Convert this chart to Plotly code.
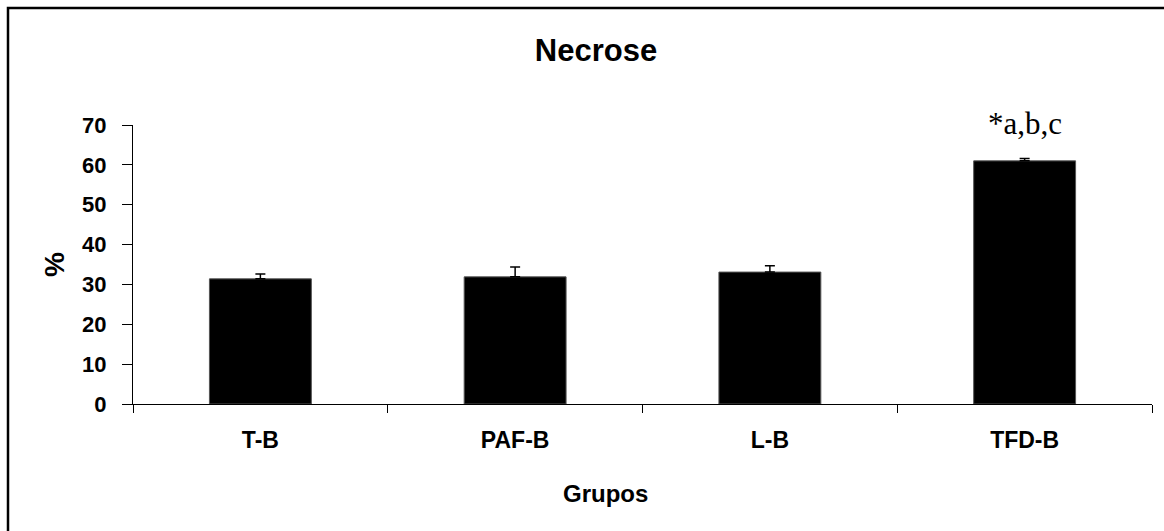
import plotly.graph_objects as go

categories = ["T-B", "PAF-B", "L-B", "TFD-B"]
values = [31.4, 31.9, 33.1, 61.0]
errors_up = [1.2, 2.5, 1.6, 0.6]
errors_down = [0, 0, 0, 0]
y_ticks = [0, 10, 20, 30, 40, 50, 60, 70]
significance = "*a,b,c"

W, H = 1164, 531
L, R, T, B = 133, 12, 125, 127
pw, ph = W - L - R, H - T - B


def px_x(x):
    return (x - L) / pw


def px_y(y):
    return (T + ph - y) / ph


fig = go.Figure()
fig.add_trace(go.Bar(
    x=categories, y=values, width=0.4,
    marker=dict(color="black", line=dict(color="#555555", width=1)),
    error_y=dict(type="data", symmetric=False, array=errors_up, arrayminus=errors_down,
                 color="black", thickness=1.5, width=5),
    showlegend=False,
))

fig.add_annotation(x=categories[3], y=values[3] + errors_up[3], yref="y", xref="x",
                   text=significance, showarrow=False, yanchor="bottom", yshift=15,
                   font=dict(family="Liberation Serif", size=31, color="black", weight="normal"))

fig.add_annotation(x=px_x(605), y=px_y(493), xref="paper", yref="paper",
                   text="Grupos", showarrow=False, xanchor="center", yanchor="middle",
                   font=dict(family="Liberation Sans", size=24, color="black", weight="bold"))

# frame (left/top edges visible)
fig.add_shape(type="rect", xref="paper", yref="paper",
              x0=px_x(8), x1=px_x(W + 20),
              y0=px_y(H + 20), y1=px_y(8),
              line=dict(color="black", width=2.5), fillcolor="rgba(0,0,0,0)", layer="below")

fig.update_layout(
    width=W, height=H,
    margin=dict(l=L, r=R, t=T, b=B, autoexpand=False),
    paper_bgcolor="white", plot_bgcolor="white",
    font=dict(family="Liberation Sans", color="black", size=22, weight="bold"),
    title=dict(text="Necrose", x=px_x(596), xref="paper", xanchor="center",
               y=1 - 50 / H, yanchor="middle",
               font=dict(size=31, family="Liberation Sans", weight="bold")),
    bargap=0.6,
)
fig.update_xaxes(
    type="category", range=[-0.5, 3.5], showline=True, linecolor="black", linewidth=1,
    ticks="outside", ticklen=8, tickcolor="black", tickson="boundaries",
    ticklabelstandoff=15, showgrid=False, zeroline=False,
    tickfont=dict(size=23),
)
fig.update_yaxes(
    range=[0, 70], tickvals=y_ticks, showline=True, linecolor="black", linewidth=1,
    ticks="outside", ticklen=10, tickcolor="black", ticklabelstandoff=11,
    showgrid=False, zeroline=False,
    tickfont=dict(size=22),
    title=dict(text="%", standoff=9, font=dict(size=28, weight="bold")),
)

fig.write_html("out.html")
